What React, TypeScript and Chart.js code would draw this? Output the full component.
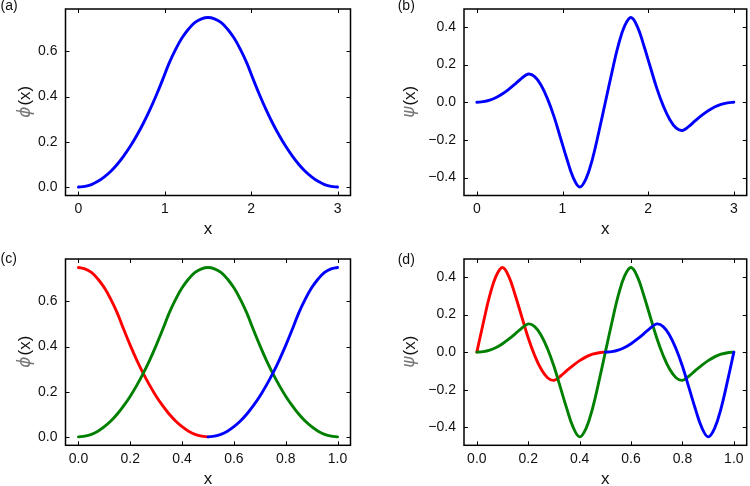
import React, { useEffect, useRef } from "react";
import { Chart, registerables } from "chart.js";

Chart.register(...registerables);

// Sample grids: 0..3 for the base functions, 0..1 for the periodized ones
const xCoarse = [
  0, 0.075, 0.15, 0.225, 0.3, 0.375, 0.45, 0.525, 0.6, 0.675, 0.75, 0.825, 0.9, 0.975, 1.05, 1.125, 1.2, 1.275, 1.35,
  1.425, 1.5, 1.575, 1.65, 1.725, 1.8, 1.875, 1.95, 2.025, 2.1, 2.175, 2.25, 2.325, 2.4, 2.475, 2.55, 2.625, 2.7,
  2.775, 2.85, 2.925, 3,
];
const xFine = [
  0, 0.025, 0.05, 0.075, 0.1, 0.125, 0.15, 0.175, 0.2, 0.225, 0.25, 0.275, 0.3, 0.325, 0.35, 0.375, 0.4, 0.425, 0.45,
  0.475, 0.5, 0.525, 0.55, 0.575, 0.6, 0.625, 0.65, 0.675, 0.7, 0.725, 0.75, 0.775, 0.8, 0.825, 0.85, 0.875, 0.9,
  0.925, 0.95, 0.975, 1,
];
const xLeftHalf = xFine.slice(0, 21);
const xRightHalf = xFine.slice(20);

// (a) scaling function
const phiA = [
  0, 0.003, 0.011, 0.025, 0.045, 0.07, 0.101, 0.138, 0.18, 0.228, 0.281, 0.34, 0.405, 0.475, 0.548, 0.609, 0.66, 0.699,
  0.728, 0.744, 0.75, 0.744, 0.728, 0.699, 0.66, 0.609, 0.548, 0.475, 0.405, 0.34, 0.281, 0.228, 0.18, 0.138, 0.101,
  0.07, 0.045, 0.025, 0.011, 0.003, 0,
];

// (b) wavelet
const psiB = [
  0, 0.003, 0.011, 0.025, 0.045, 0.07, 0.098, 0.128, 0.15, 0.136, 0.09, 0.018, -0.075, -0.187, -0.3, -0.4, -0.45,
  -0.405, -0.3, -0.155, 0, 0.155, 0.3, 0.405, 0.45, 0.4, 0.3, 0.187, 0.075, -0.018, -0.09, -0.136, -0.15, -0.128,
  -0.098, -0.07, -0.045, -0.025, -0.011, -0.003, 0,
];

// (c) periodized scaling functions
const phiCRed = [
  0.75, 0.744, 0.728, 0.699, 0.66, 0.609, 0.548, 0.475, 0.405, 0.34, 0.281, 0.228, 0.18, 0.138, 0.101, 0.07, 0.045,
  0.025, 0.011, 0.003, 0,
];
const phiCGreen = [
  0, 0.003, 0.011, 0.025, 0.045, 0.07, 0.101, 0.138, 0.18, 0.228, 0.281, 0.34, 0.405, 0.475, 0.548, 0.609, 0.66, 0.699,
  0.728, 0.744, 0.75, 0.744, 0.728, 0.699, 0.66, 0.609, 0.548, 0.475, 0.405, 0.34, 0.281, 0.228, 0.18, 0.138, 0.101,
  0.07, 0.045, 0.025, 0.011, 0.003, 0,
];
const phiCBlue = [
  0, 0.003, 0.011, 0.025, 0.045, 0.07, 0.101, 0.138, 0.18, 0.228, 0.281, 0.34, 0.405, 0.475, 0.548, 0.609, 0.66, 0.699,
  0.728, 0.744, 0.75,
];

// (d) periodized wavelets
const psiDRed = [
  0, 0.155, 0.3, 0.405, 0.45, 0.4, 0.3, 0.187, 0.075, -0.018, -0.09, -0.136, -0.15, -0.128, -0.098, -0.07, -0.045,
  -0.025, -0.011, -0.003, 0,
];
const psiDGreen = [
  0, 0.003, 0.011, 0.025, 0.045, 0.07, 0.098, 0.128, 0.15, 0.136, 0.09, 0.018, -0.075, -0.187, -0.3, -0.4, -0.45,
  -0.405, -0.3, -0.155, 0, 0.155, 0.3, 0.405, 0.45, 0.4, 0.3, 0.187, 0.075, -0.018, -0.09, -0.136, -0.15, -0.128,
  -0.098, -0.07, -0.045, -0.025, -0.011, -0.003, 0,
];
const psiDBlue = [
  0, 0.003, 0.011, 0.025, 0.045, 0.07, 0.098, 0.128, 0.15, 0.136, 0.09, 0.018, -0.075, -0.187, -0.3, -0.4, -0.45,
  -0.405, -0.3, -0.155, 0,
];

// Tick positions
const xTicksCoarse = [0, 1, 2, 3];
const xTicksFine = [0, 0.2, 0.4, 0.6, 0.8, 1];
const yTicksPhi = [0, 0.2, 0.4, 0.6];
const yTicksPsi = [-0.4, -0.2, 0, 0.2, 0.4];

const BLUE = "#0000ff";
const RED = "#ff0000";
const GREEN = "#008000";
const SANS = "'Liberation Sans', Arial, Helvetica, sans-serif";
const TEXT = "#111";
const TICK_LEN = 4;

type Series = { xs: number[]; ys: number[]; color: string };
type PanelSpec = {
  tag: string;
  symbol: string;
  left: number;
  top: number;
  width: number;
  height: number;
  area: { left: number; top: number; right: number; bottom: number };
  xRange: [number, number];
  yRange: [number, number];
  xTicks: number[];
  yTicks: number[];
  xDecimals: number;
  series: Series[];
  tagPos: [number, number];
  labelX: number;
  titlePad: number;
};

const fmt = (v: number, d: number) => {
  const s = Math.abs(v).toFixed(d);
  return v < -1e-9 ? "\u2212" + s : s;
};

// Frame with inward ticks on all four sides, rotated y label, panel tag
const decorPlugin = {
  id: "panelDecor",
  afterDraw(chart: any, _args: any, opts: any) {
    const { ctx, chartArea: a } = chart;
    const xs = chart.scales.x;
    const ys = chart.scales.y;
    ctx.save();
    ctx.strokeStyle = "#000";
    ctx.lineWidth = 1;
    ctx.beginPath();
    xs.ticks.forEach((t: any) => {
      const p = Math.round(xs.getPixelForValue(t.value)) + 0.5;
      ctx.moveTo(p, a.bottom);
      ctx.lineTo(p, a.bottom - TICK_LEN);
      ctx.moveTo(p, a.top);
      ctx.lineTo(p, a.top + TICK_LEN);
    });
    ys.ticks.forEach((t: any) => {
      const p = Math.round(ys.getPixelForValue(t.value)) + 0.5;
      ctx.moveTo(a.left, p);
      ctx.lineTo(a.left + TICK_LEN, p);
      ctx.moveTo(a.right, p);
      ctx.lineTo(a.right - TICK_LEN, p);
    });
    ctx.stroke();
    ctx.lineWidth = 1.5;
    ctx.strokeRect(a.left, a.top, a.right - a.left, a.bottom - a.top);

    // y-axis label: greek symbol followed by "(x)", read bottom to top
    const cy = (a.top + a.bottom) / 2;
    ctx.save();
    ctx.translate(opts.labelX, cy);
    ctx.rotate(-Math.PI / 2);
    const symFont = "italic 17px 'DejaVu Sans', sans-serif";
    const txtFont = `17px ${SANS}`;
    ctx.font = symFont;
    const w1 = ctx.measureText(opts.symbol).width;
    ctx.font = txtFont;
    const w2 = ctx.measureText("(x)").width;
    const x0 = -(w1 + w2) / 2;
    ctx.textAlign = "left";
    ctx.textBaseline = "middle";
    ctx.font = symFont;
    ctx.fillStyle = "#777";
    ctx.fillText(opts.symbol, x0, 0);
    ctx.font = txtFont;
    ctx.fillStyle = TEXT;
    ctx.fillText("(x)", x0 + w1 + 1, 0);
    ctx.restore();

    ctx.font = `14px ${SANS}`;
    ctx.fillStyle = TEXT;
    ctx.textAlign = "left";
    ctx.textBaseline = "middle";
    ctx.fillText(opts.tag, opts.tagX, opts.tagY);
    ctx.restore();
  },
};

function Panel({ spec }: { spec: PanelSpec }) {
  const ref = useRef<HTMLCanvasElement | null>(null);

  useEffect(() => {
    if (!ref.current) return;
    const { area, width, height } = spec;
    const chart = new Chart(ref.current, {
      type: "line",
      data: {
        datasets: spec.series.map((s) => ({
          data: s.xs.map((x, i) => ({ x, y: s.ys[i] })),
          borderColor: s.color,
          backgroundColor: s.color,
          borderWidth: 2.9,
          pointRadius: 0,
          fill: false,
          tension: 0.4,
          borderCapStyle: "round" as const,
          borderJoinStyle: "round" as const,
        })),
      },
      options: {
        responsive: false,
        animation: false,
        events: [],
        layout: {
          autoPadding: false,
          padding: { left: 0, top: area.top, right: width - area.right, bottom: 0 },
        },
        plugins: {
          legend: { display: false },
          tooltip: { enabled: false },
          panelDecor: {
            tag: spec.tag,
            tagX: spec.tagPos[0],
            tagY: spec.tagPos[1],
            symbol: spec.symbol,
            labelX: spec.labelX,
          },
        } as any,
        scales: {
          x: {
            type: "linear",
            min: spec.xRange[0],
            max: spec.xRange[1],
            grid: { display: false, drawTicks: false, tickLength: 0 },
            border: { display: false },
            ticks: {
              font: { family: SANS, size: 14 },
              color: TEXT,
              padding: 5,
              maxRotation: 0,
              autoSkip: false,
              callback: (v: any) => fmt(Number(v), spec.xDecimals),
            },
            title: {
              display: true,
              text: "x",
              font: { family: SANS, size: 17 },
              color: TEXT,
              padding: { top: 0, bottom: spec.titlePad },
            },
            afterBuildTicks: (s: any) => {
              s.ticks = spec.xTicks.map((v) => ({ value: v }));
            },
            afterFit: (s: any) => {
              s.height = height - area.bottom;
              s.paddingLeft = 0;
              s.paddingRight = 0;
            },
          },
          y: {
            type: "linear",
            min: spec.yRange[0],
            max: spec.yRange[1],
            grid: { display: false, drawTicks: false, tickLength: 0 },
            border: { display: false },
            ticks: {
              font: { family: SANS, size: 14 },
              color: TEXT,
              padding: 8,
              autoSkip: false,
              callback: (v: any) => fmt(Number(v), 1),
            },
            afterBuildTicks: (s: any) => {
              s.ticks = spec.yTicks.map((v) => ({ value: v }));
            },
            afterFit: (s: any) => {
              s.width = area.left;
              s.paddingTop = 0;
              s.paddingBottom = 0;
            },
          },
        },
      },
      plugins: [decorPlugin],
    });
    return () => chart.destroy();
  }, [spec]);

  return (
    <canvas
      ref={ref}
      width={spec.width}
      height={spec.height}
      style={{ position: "absolute", left: spec.left, top: spec.top, width: spec.width, height: spec.height }}
    />
  );
}

const PHI = "\u03d5";
const PSI = "\u03c8";

const panels: PanelSpec[] = [
  {
    tag: "(a)",
    symbol: PHI,
    left: 0,
    top: 0,
    width: 375,
    height: 243,
    area: { left: 65.5, top: 9, right: 350.5, bottom: 195.5 },
    xRange: [-0.15, 3.15],
    yRange: [-0.0375, 0.7875],
    xTicks: xTicksCoarse,
    yTicks: yTicksPhi,
    xDecimals: 0,
    series: [{ xs: xCoarse, ys: phiA, color: BLUE }],
    tagPos: [0.5, 6.5],
    labelX: 25.7,
    titlePad: 3.5,
  },
  {
    tag: "(b)",
    symbol: PSI,
    left: 375,
    top: 0,
    width: 375,
    height: 243,
    area: { left: 89, top: 9, right: 371.7, bottom: 195.5 },
    xRange: [-0.15, 3.15],
    yRange: [-0.495, 0.495],
    xTicks: xTicksCoarse,
    yTicks: yTicksPsi,
    xDecimals: 0,
    series: [{ xs: xCoarse, ys: psiB, color: BLUE }],
    tagPos: [22.7, 6.5],
    labelX: 35,
    titlePad: 3.5,
  },
  {
    tag: "(c)",
    symbol: PHI,
    left: 0,
    top: 243,
    width: 375,
    height: 252,
    area: { left: 65.5, top: 16, right: 350.5, bottom: 202.3 },
    xRange: [-0.05, 1.05],
    yRange: [-0.0375, 0.7875],
    xTicks: xTicksFine,
    yTicks: yTicksPhi,
    xDecimals: 1,
    series: [
      { xs: xRightHalf, ys: phiCBlue, color: BLUE },
      { xs: xFine, ys: phiCGreen, color: GREEN },
      { xs: xLeftHalf, ys: phiCRed, color: RED },
    ],
    tagPos: [0.5, 16.5],
    labelX: 25.7,
    titlePad: 5.5,
  },
  {
    tag: "(d)",
    symbol: PSI,
    left: 375,
    top: 243,
    width: 375,
    height: 252,
    area: { left: 89, top: 16, right: 371.7, bottom: 202.3 },
    xRange: [-0.05, 1.05],
    yRange: [-0.495, 0.495],
    xTicks: xTicksFine,
    yTicks: yTicksPsi,
    xDecimals: 1,
    series: [
      { xs: xRightHalf, ys: psiDBlue, color: BLUE },
      { xs: xFine, ys: psiDGreen, color: GREEN },
      { xs: xLeftHalf, ys: psiDRed, color: RED },
    ],
    tagPos: [22.7, 17],
    labelX: 35,
    titlePad: 5.5,
  },
];

export default function App() {
  return (
    <div
      style={{
        position: "absolute",
        left: 0,
        top: 0,
        width: 750,
        height: 486,
        overflow: "hidden",
        background: "#fff",
      }}
    >
      {panels.map((p) => (
        <Panel key={p.tag} spec={p} />
      ))}
    </div>
  );
}
